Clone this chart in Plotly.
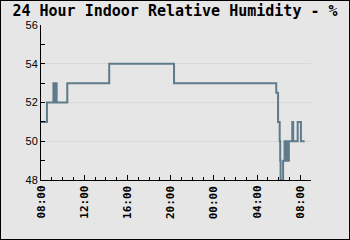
import pandas as pd
import plotly.graph_objects as go

times = [
    "2024-01-01 08:00", "2024-01-01 08:33", "2024-01-01 09:09", "2024-01-01 09:12",
    "2024-01-01 09:23", "2024-01-01 09:27", "2024-01-01 10:26", "2024-01-01 14:19",
    "2024-01-01 20:19", "2024-01-02 05:47", "2024-01-02 05:57", "2024-01-02 06:06",
    "2024-01-02 06:09", "2024-01-02 06:11", "2024-01-02 06:25", "2024-01-02 06:33",
    "2024-01-02 06:35", "2024-01-02 06:37", "2024-01-02 06:39", "2024-01-02 06:41",
    "2024-01-02 06:43", "2024-01-02 06:45", "2024-01-02 06:47", "2024-01-02 06:49",
    "2024-01-02 06:51", "2024-01-02 06:53", "2024-01-02 06:55", "2024-01-02 06:57",
    "2024-01-02 07:16", "2024-01-02 07:21", "2024-01-02 07:46", "2024-01-02 08:04",
    "2024-01-02 08:25",
]
humidity = [
    51, 52, 53, 52,
    53, 52, 53, 54,
    53, 52.5, 51, 50,
    49, 48, 49, 50,
    49, 50, 49, 50,
    49, 50, 49, 50,
    49, 50, 49, 50,
    51, 50, 51, 50,
    50,
]

tick_times = ["2024-01-01 08:00", "2024-01-01 12:00", "2024-01-01 16:00",
              "2024-01-01 20:00", "2024-01-02 00:00", "2024-01-02 04:00",
              "2024-01-02 08:00"]
tick_text = ["08:00", "12:00", "16:00", "20:00", "00:00", "04:00", "08:00"]

title_text = "24 Hour Indoor Relative Humidity - %"
x_start = "2024-01-01 08:00"
x_end = "2024-01-02 09:00"
y_range = [48, 56]

t0 = pd.Timestamp(x_start)
to_h = lambda s: (pd.to_datetime(s) - t0) / pd.Timedelta(hours=1)
x_hours = [float(v) for v in to_h(pd.Series(times))]
tick_hours = [float(v) for v in to_h(pd.Series(tick_times))]
x_range = [0.0, float(to_h(x_end))]

fig = go.Figure()
fig.add_trace(go.Scatter(
    x=x_hours, y=humidity, mode="lines", line_shape="hv",
    line=dict(color="#5f7a8b", width=2), hoverinfo="skip",
))

W, H = 350, 240
L, R, T, B = 41, 39, 25, 60
pw, ph = W - L - R, H - T - B
tick_font = dict(family="DejaVu Sans Mono", size=11, color="black", weight="bold")

annotations = [
    dict(x=xv, y=0, xref="x", yref="paper", text=txt, showarrow=False,
         textangle=-90, xanchor="center", yanchor="top", yshift=-5,
         borderpad=0, font=tick_font)
    for xv, txt in zip(tick_hours, tick_text)
]

fig.update_layout(
    template="none",
    width=W, height=H,
    margin=dict(l=L, r=R, t=T, b=B, pad=0),
    paper_bgcolor="#e6e6e6", plot_bgcolor="#e6e6e6",
    showlegend=False,
    title=dict(text="<b>" + title_text + "</b>", x=0.5, xanchor="center",
               y=1 - 11 / H, yanchor="middle",
               font=dict(family="DejaVu Sans Mono", size=15, color="black")),
    xaxis=dict(
        range=x_range, showgrid=False, zeroline=False, automargin=False,
        showline=True, linecolor="black", linewidth=1,
        ticks="inside", ticklen=5, tickcolor="black", tickwidth=1,
        tickmode="array", tickvals=tick_hours, showticklabels=False,
        minor=dict(dtick=1, tick0=0, ticks="inside",
                   ticklen=3, tickcolor="black", showgrid=False),
    ),
    yaxis=dict(
        range=y_range, dtick=2, tick0=48, showgrid=True, gridcolor="#d9d9d9",
        gridwidth=1, zeroline=False, showline=True, linecolor="black", linewidth=1,
        automargin=False,
        ticks="inside", ticklen=4, tickcolor="black",
        tickfont=dict(family="Liberation Sans", size=11, color="black"),
        minor=dict(dtick=1, ticks="inside", ticklen=4, tickcolor="black", showgrid=False),
    ),
    annotations=annotations,
    shapes=[dict(type="rect", xref="paper", yref="paper",
                 x0=-L / pw, x1=(W - L) / pw, y0=-B / ph, y1=(H - B) / ph,
                 line=dict(color="black", width=2), layer="below")],
)

fig.write_html("out.html")
